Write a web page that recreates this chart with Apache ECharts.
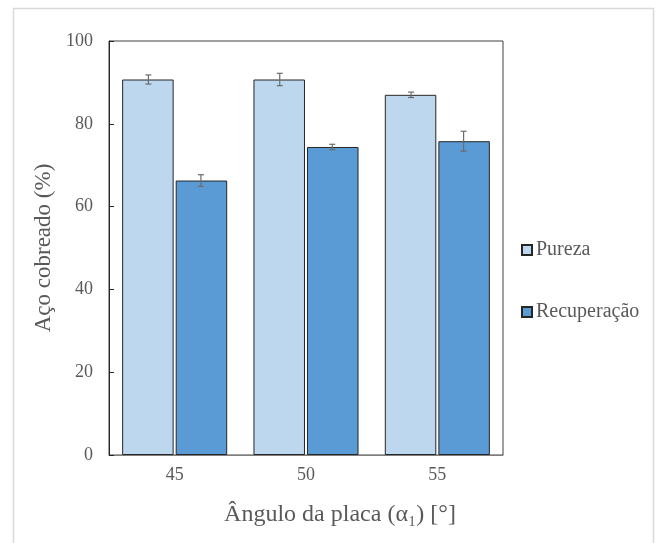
<!DOCTYPE html>
<html>
<head>
<meta charset="utf-8">
<script src="https://cdn.jsdelivr.net/npm/echarts@6/dist/echarts.min.js"></script>
<style>
html,body{margin:0;padding:0;background:#fff;}
#c{width:657px;height:543px;}
</style>
</head>
<body>
<div id="c"></div>
<script>
const categories = ['45', '50', '55'];
const pureza = [90.7, 90.7, 87.0];
const purezaErr = [1.1, 1.5, 0.65];
const recuperacao = [66.3, 74.4, 75.8];
const recuperacaoErr = [1.4, 0.65, 2.4];
const yTicks = [0, 20, 40, 60, 80, 100];

const FONT = '"Liberation Serif", "Times New Roman", serif';
const TXT = '#595959';

function errorSeries(name, values, errs, sign) {
  return {
    type: 'custom',
    name: name + '_err',
    z: 10,
    silent: true,
    data: values.map((v, i) => [i, v, errs[i]]),
    renderItem: function (params, api) {
      const i = api.value(0), v = api.value(1), e = api.value(2);
      const band = api.size([1, 0])[0];
      const off = sign * 0.2 * band;
      const top = api.coord([i, v + e]);
      const bot = api.coord([i, v - e]);
      const x = top[0] + off;
      const cap = 3;
      const style = { stroke: '#6b6b6b', lineWidth: 1.2 };
      return {
        type: 'group',
        children: [
          { type: 'line', shape: { x1: x, y1: top[1], x2: x, y2: bot[1] }, style: style },
          { type: 'line', shape: { x1: x - cap, y1: top[1], x2: x + cap, y2: top[1] }, style: style },
          { type: 'line', shape: { x1: x - cap, y1: bot[1], x2: x + cap, y2: bot[1] }, style: style }
        ]
      };
    }
  };
}

const chart = echarts.init(document.getElementById('c'));
chart.setOption({
  animation: false,
  backgroundColor: '#fff',
  grid: { left: 109, right: 154, top: 41, bottom: 88, show: true, borderColor: '#404040', borderWidth: 1 },
  legend: {
    orient: 'vertical',
    left: 516,
    top: 235,
    itemGap: 42,
    itemWidth: 10,
    itemHeight: 10,
    data: [
      { name: 'Pureza', icon: 'rect' },
      { name: 'Recuperação', icon: 'rect' }
    ],
    textStyle: { fontFamily: FONT, fontSize: 20, color: TXT, padding: [0, 0, 0, -1] }
  },
  xAxis: {
    type: 'category',
    data: categories,
    axisLine: { lineStyle: { color: '#7f7f7f' } },
    axisTick: { show: false },
    axisLabel: { fontFamily: FONT, fontSize: 18, color: TXT, margin: 11 }
  },
  yAxis: {
    type: 'value',
    min: yTicks[0],
    max: yTicks[yTicks.length - 1],
    interval: 20,
    splitLine: { show: false },
    axisLine: { show: true, lineStyle: { color: '#262626' } },
    axisTick: { show: true, inside: true, length: 5, lineStyle: { color: '#262626' } },
    axisLabel: { fontFamily: FONT, fontSize: 18, color: TXT, margin: 16 },
    name: 'Aço cobreado (%)',
    nameLocation: 'middle',
    nameGap: 46,
    nameTextStyle: { fontFamily: FONT, fontSize: 23, color: TXT }
  },
  series: [
    {
      name: 'Pureza', type: 'bar', data: pureza,
      barCategoryGap: '20%', barGap: '4%',
      itemStyle: { color: '#BDD7EE', borderColor: '#262626', borderWidth: 1 }
    },
    {
      name: 'Recuperação', type: 'bar', data: recuperacao,
      barCategoryGap: '20%', barGap: '4%',
      itemStyle: { color: '#5B9BD5', borderColor: '#262626', borderWidth: 1 }
    },
    errorSeries('Pureza', pureza, purezaErr, -1),
    errorSeries('Recuperação', recuperacao, recuperacaoErr, 1)
  ],
  graphic: [
    { type: 'rect', shape: { x: 13.5, y: 8.5, width: 640, height: 600 }, style: { fill: 'none', stroke: '#d9d9d9', lineWidth: 1.5 }, z: -1 },
    { type: 'text', x: 340, y: 503, style: { text: 'Ângulo da placa (α₁) [°]', font: '24px ' + FONT, fill: TXT, textAlign: 'center', textVerticalAlign: 'top' } }
  ]
});
</script>
</body>
</html>
